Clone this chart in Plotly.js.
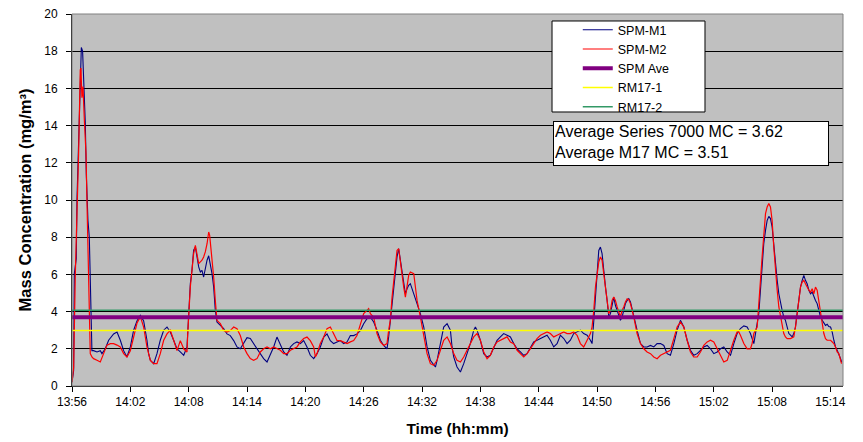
<!DOCTYPE html>
<html>
<head>
<meta charset="utf-8">
<script src="https://cdn.plot.ly/plotly-3.0.1.min.js"></script>
<style>html,body{margin:0;padding:0;background:#fff;}#chart{width:863px;height:442px;}</style>
</head>
<body>
<div id="chart"></div>
<script>
// Time in minutes after 13:56
const tickMinutes = [0, 6, 12, 18, 24, 30, 36, 42, 48, 54, 60, 66, 72, 78];
const tickLabels = ["13:56","14:02","14:08","14:14","14:20","14:26","14:32","14:38","14:44","14:50","14:56","15:02","15:08","15:14"];

const m1Time = [0,0.17,0.24,0.44,0.51,0.68,0.85,0.96,1.09,1.2,1.3,1.37,1.47,1.64,1.78,1.88,1.98,2.05,2.22,2.57,2.91,3.08,3.42,3.77,4.28,4.63,4.97,5.31,5.65,6.0,6.34,6.68,7.03,7.37,7.71,7.88,8.06,8.4,8.74,9.08,9.43,9.77,10.11,10.46,10.8,11.14,11.49,11.83,12.0,12.17,12.34,12.51,12.69,12.86,13.03,13.2,13.37,13.54,13.71,13.89,14.06,14.23,14.4,14.57,14.74,14.91,15.26,15.6,15.94,16.28,16.63,16.97,17.31,17.66,18.0,18.34,18.68,19.03,19.37,19.71,20.06,20.4,20.74,21.08,21.26,21.43,21.77,22.11,22.46,22.8,23.14,23.49,23.83,24.17,24.51,24.86,25.2,25.54,25.89,26.23,26.57,26.91,27.26,27.6,27.94,28.29,28.63,28.97,29.31,29.66,30.0,30.34,30.69,31.03,31.37,31.72,32.06,32.4,32.57,32.74,32.92,33.09,33.26,33.43,33.6,33.78,33.95,34.12,34.29,34.46,34.63,34.8,34.98,35.15,35.49,35.83,36.18,36.52,36.86,37.2,37.38,37.55,37.89,38.23,38.58,38.92,39.09,39.26,39.6,39.95,40.29,40.63,40.97,41.32,41.49,41.66,42.0,42.35,42.69,43.03,43.38,43.72,44.06,44.4,44.75,45.09,45.43,45.78,46.12,46.46,46.81,47.15,47.49,47.83,48.18,48.52,48.86,49.2,49.55,49.89,50.23,50.58,50.92,51.26,51.6,51.95,52.29,52.63,52.98,53.32,53.49,53.67,53.84,54.01,54.18,54.35,54.52,54.69,54.87,55.04,55.21,55.38,55.55,55.72,55.89,56.07,56.24,56.41,56.58,56.75,56.92,57.1,57.27,57.44,57.78,58.12,58.47,58.81,59.15,59.5,59.84,60.18,60.53,60.87,61.21,61.55,61.9,62.24,62.58,62.93,63.27,63.61,63.95,64.3,64.64,64.98,65.33,65.67,66.01,66.36,66.7,67.04,67.39,67.73,68.07,68.41,68.75,69.1,69.44,69.78,70.13,70.3,70.47,70.64,70.81,70.98,71.15,71.33,71.5,71.67,71.84,72.01,72.18,72.35,72.53,72.7,72.87,73.04,73.21,73.38,73.56,73.73,73.9,74.07,74.24,74.41,74.58,74.76,74.93,75.1,75.27,75.44,75.61,75.79,75.96,76.13,76.3,76.47,76.64,76.81,76.99,77.16,77.33,77.5,77.67,77.84,78.02,78.19,78.36,78.53,78.7,78.87,79.05,79.15];
const m1Val = [0.2,0.84,6.04,6.85,9.98,13.0,16.4,18.2,18.0,16.6,15.6,14.1,11.4,8.9,8.0,4.97,2.8,1.9,1.9,1.83,1.9,1.74,2.0,2.46,2.8,2.9,2.46,1.9,1.56,2.1,3.0,3.5,3.8,3.5,2.46,1.74,1.38,1.2,1.74,2.46,3.0,3.17,2.9,2.46,2.0,1.83,1.65,2.1,4.07,5.5,6.22,7.3,7.47,6.94,6.4,6.13,6.22,5.86,6.4,6.76,7.0,6.58,6.04,5.32,4.07,3.44,3.26,3.08,2.8,2.71,2.44,2.1,2.0,2.28,2.6,2.55,2.28,2.0,1.74,1.47,1.29,1.65,2.1,2.63,2.44,2.18,1.83,1.65,2.1,2.28,2.37,2.28,2.44,2.1,1.65,1.47,1.74,2.1,2.63,2.8,2.44,2.28,2.37,2.44,2.28,2.37,2.71,2.71,2.8,2.98,3.35,3.62,3.7,3.44,3.0,2.46,2.18,2.0,2.64,3.53,4.43,5.5,6.04,6.94,7.38,6.76,6.13,5.77,4.96,5.23,5.41,5.5,5.23,4.96,4.43,3.89,3.17,2.1,1.38,1.11,1.02,1.38,2.28,3.17,3.35,3.0,2.1,1.56,1.02,0.75,1.2,1.74,2.28,3.0,3.17,3.0,2.46,1.74,1.56,1.65,2.1,2.46,2.64,2.82,2.73,2.64,2.28,2.0,1.83,1.65,1.74,2.1,2.37,2.46,2.55,2.64,2.73,2.46,2.1,2.28,2.73,2.55,2.28,2.46,2.82,2.91,3.0,2.82,2.73,2.46,2.28,3.53,4.6,6.04,7.29,7.47,7.12,6.04,5.32,4.6,3.71,3.89,4.43,4.78,4.34,4.07,3.71,3.53,3.71,4.07,4.43,4.6,4.69,4.52,3.71,3.0,2.28,2.1,2.1,2.18,2.1,2.28,2.28,2.18,1.74,1.65,2.28,3.0,3.53,3.17,2.46,1.92,1.65,1.74,1.92,2.1,2.18,2.0,1.74,1.83,2.0,2.1,1.83,1.65,2.28,2.82,3.09,3.23,3.17,2.82,2.28,2.82,3.35,3.89,5.15,6.4,7.65,8.37,8.9,9.12,9.0,8.55,7.47,6.58,5.68,4.96,4.43,4.07,3.71,3.53,3.17,2.82,2.73,2.64,2.82,3.17,3.89,4.78,5.32,5.68,5.95,5.68,5.5,5.15,4.96,5.05,4.78,4.6,4.43,4.07,3.71,3.53,3.35,3.26,3.32,3.2,3.17,2.9,2.46,2.1,1.92,1.74,1.47,1.29];

const m2Time = [0,0.17,0.34,0.58,0.68,0.85,0.92,1.02,1.13,1.27,1.44,1.61,1.78,1.88,2.05,2.22,2.57,2.91,3.25,3.6,3.94,4.28,4.63,4.97,5.31,5.65,6.0,6.34,6.68,7.03,7.37,7.71,8.06,8.4,8.74,9.08,9.43,9.77,10.11,10.46,10.8,11.14,11.49,11.83,11.9,12.17,12.51,12.69,12.86,13.03,13.2,13.37,13.54,13.71,13.89,14.06,14.16,14.3,14.4,14.57,14.74,14.91,15.26,15.6,15.94,16.28,16.63,16.97,17.31,17.66,18.0,18.34,18.68,19.03,19.37,19.71,20.06,20.4,20.74,21.08,21.43,21.77,22.11,22.46,22.8,23.14,23.49,23.83,24.17,24.51,24.86,25.03,25.2,25.54,25.89,26.23,26.57,26.91,27.26,27.6,27.94,28.29,28.63,28.97,29.31,29.66,30.0,30.34,30.51,30.69,31.03,31.37,31.72,32.06,32.4,32.57,32.74,32.92,33.09,33.26,33.43,33.6,33.78,33.95,34.12,34.29,34.46,34.63,34.8,35.15,35.32,35.49,35.83,36.18,36.52,36.86,37.2,37.55,37.89,38.23,38.58,38.92,39.26,39.6,39.95,40.29,40.63,40.97,41.32,41.66,42.0,42.35,42.69,43.03,43.38,43.72,44.06,44.4,44.75,45.09,45.43,45.78,46.12,46.46,46.81,47.15,47.49,47.83,48.18,48.52,48.86,49.2,49.55,49.89,50.23,50.58,50.92,51.26,51.6,51.95,52.29,52.63,52.98,53.32,53.49,53.67,53.84,54.01,54.18,54.35,54.52,54.69,54.87,55.04,55.21,55.38,55.55,55.72,55.89,56.07,56.41,56.58,56.75,56.92,57.1,57.27,57.44,57.78,58.12,58.47,58.81,59.15,59.5,59.84,60.18,60.53,60.87,61.21,61.55,61.9,62.24,62.58,62.93,63.27,63.61,63.95,64.3,64.64,64.98,65.33,65.67,66.01,66.36,66.7,67.04,67.39,67.73,68.07,68.41,68.58,68.75,69.1,69.44,69.78,69.95,70.13,70.47,70.64,70.81,70.98,71.15,71.33,71.5,71.67,71.84,72.01,72.18,72.35,72.53,72.7,72.87,73.04,73.21,73.38,73.56,73.9,74.24,74.41,74.58,74.76,74.93,75.1,75.27,75.44,75.61,75.79,75.96,76.13,76.3,76.47,76.64,76.81,76.99,77.16,77.33,77.5,77.67,78.02,78.36,78.53,78.7,78.87,79.05,79.15];
const m2Val = [0.2,1.0,6.0,10.0,12.5,17.0,17.1,15.5,16.1,14.3,12.5,8.2,4.25,1.74,1.56,1.47,1.38,1.29,1.74,2.2,2.28,2.28,2.2,2.1,1.74,1.56,1.9,2.64,3.37,3.73,3.17,2.1,1.38,1.2,1.2,1.74,2.46,2.8,3.0,2.46,1.9,2.44,2.0,1.83,2.8,5.32,7.12,7.56,7.12,6.58,6.67,6.76,6.94,7.21,7.65,8.28,8.1,7.38,6.94,5.86,4.6,3.53,3.35,2.98,2.9,2.98,3.17,3.08,2.71,2.1,1.74,1.47,1.38,1.47,1.83,2.0,2.1,2.0,2.1,2.0,1.92,1.74,1.74,1.92,2.0,2.1,2.37,2.55,2.63,2.44,2.1,1.56,1.74,2.28,2.63,3.08,3.17,2.8,2.44,2.44,2.37,2.28,2.37,2.44,2.71,3.35,3.89,4.07,4.16,3.89,3.7,2.82,2.37,2.18,2.28,3.0,3.53,4.78,5.68,6.58,7.29,7.38,6.58,5.86,5.32,4.78,5.41,5.95,6.13,6.04,5.32,4.6,3.71,2.64,1.74,1.2,1.11,1.38,1.92,2.46,2.64,2.28,1.74,1.38,1.29,1.56,1.92,2.28,2.64,2.82,2.46,1.83,1.47,1.65,2.1,2.37,2.46,2.55,2.64,2.37,2.28,1.92,1.74,1.56,1.74,2.0,2.28,2.55,2.73,2.82,2.91,2.82,2.64,2.73,2.82,2.91,2.82,2.82,2.91,2.73,2.28,2.1,2.46,2.82,3.17,4.07,5.32,6.04,6.67,6.94,6.76,6.04,5.32,4.6,3.89,4.07,4.6,4.78,4.6,4.25,3.71,4.07,4.25,4.52,4.69,4.64,4.43,3.71,2.82,2.28,2.0,1.83,1.74,1.56,1.47,1.65,1.74,1.83,1.92,2.55,3.17,3.44,3.17,2.46,1.83,1.56,1.56,1.83,2.18,2.37,2.46,2.37,2.0,1.56,1.29,1.38,1.95,2.46,2.91,2.91,2.73,2.28,2.0,2.0,2.28,2.82,3.17,4.25,5.68,6.94,8.37,9.27,9.63,9.81,9.63,8.9,7.47,6.22,5.15,4.25,3.71,3.17,2.82,2.64,2.55,2.55,2.64,3.17,3.89,4.6,5.32,5.59,5.68,5.5,5.32,5.15,5.05,5.23,4.96,5.32,5.15,4.6,3.89,3.35,2.82,2.55,2.46,2.46,2.28,2.1,1.83,1.74,1.38,1.2];

// Reference (constant) series across the whole record
const refTime = [0, 79.3];
const spmAve = [3.7, 3.7];
const rm17_1 = [2.99, 2.99];
const rm17_2 = [4.07, 4.07];

const avgSeries7000 = "3.62";
const avgM17 = "3.51";

const FONT = 'Arial, "Liberation Sans", sans-serif';

const traces = [
  {x: m1Time, y: m1Val, name: 'SPM-M1', type: 'scatter', mode: 'lines', line: {color: '#000080', width: 1.1}},
  {x: m2Time, y: m2Val, name: 'SPM-M2', type: 'scatter', mode: 'lines', line: {color: '#FF0000', width: 1.2}},
  {x: refTime, y: spmAve, name: 'SPM Ave', type: 'scatter', mode: 'lines', line: {color: '#800080', width: 4}},
  {x: refTime, y: rm17_1, name: 'RM17-1', type: 'scatter', mode: 'lines', line: {color: '#FFFF00', width: 1.5}},
  {x: refTime, y: rm17_2, name: 'RM17-2', type: 'scatter', mode: 'lines', line: {color: '#339966', width: 1.5}}
];

const layout = {
  width: 863, height: 442,
  margin: {l: 72, r: 20, t: 14, b: 56, pad: 0},
  paper_bgcolor: '#FFFFFF',
  plot_bgcolor: '#C0C0C0',
  font: {family: FONT, color: '#000000', size: 12},
  showlegend: true,
  legend: {
    x: 0.656, y: 0.997, xanchor: 'left', yanchor: 'top',
    bgcolor: 'rgba(0,0,0,0)', borderwidth: 0,
    font: {family: FONT, size: 12.5, color: '#000000'},
    traceorder: 'normal'
  },
  xaxis: {
    range: [0, 79.3],
    tickmode: 'array', tickvals: tickMinutes, ticktext: tickLabels,
    ticks: 'outside', ticklen: 5, tickwidth: 1, tickcolor: '#000000',
    showline: true, linecolor: '#000000', linewidth: 1,
    showgrid: false, zeroline: false,
    tickfont: {family: FONT, size: 12, color: '#000000'},
    title: {text: 'Time (hh:mm)', font: {family: FONT, size: 15.5, weight: 'bold', color: '#000000'}, standoff: 14}
  },
  yaxis: {
    range: [0, 20], dtick: 2, tick0: 0,
    ticks: 'outside', ticklen: 5, tickwidth: 1, tickcolor: '#000000',
    showline: true, linecolor: '#000000', linewidth: 1,
    showgrid: true, gridcolor: '#000000', gridwidth: 1, zeroline: false,
    tickfont: {family: FONT, size: 12, color: '#000000'},
    ticklabelstandoff: 6,
    title: {text: 'Mass Concentration (mg/m³)', font: {family: FONT, size: 16.5, weight: 'bold', color: '#000000'}, standoff: 8}
  },
  shapes: [
    {type: 'rect', xref: 'paper', yref: 'paper', x0: 0, x1: 1, y0: 0, y1: 1, line: {color: '#808080', width: 1}, fillcolor: 'rgba(0,0,0,0)', layer: 'above'},
    {type: 'rect', xref: 'paper', yref: 'paper', x0: 0.6226, x1: 0.821, y0: 0.7366, y1: 0.9812, line: {color: '#000000', width: 1}, fillcolor: '#FFFFFF', layer: 'above'}
  ],
  annotations: [
    {xref: 'paper', yref: 'paper', x: 0.6239, y: 0.7124, xanchor: 'left', yanchor: 'top',
     text: 'Average Series 7000 MC = ' + avgSeries7000 + '<br>Average M17 MC = ' + avgM17,
     showarrow: false, align: 'left', valign: 'top',
     bgcolor: '#FFFFFF', bordercolor: '#000000', borderwidth: 1, borderpad: 1,
     width: 272, height: 41,
     font: {family: FONT, size: 16, color: '#000000'}}
  ]
};

Plotly.newPlot('chart', traces, layout, {displayModeBar: false, staticPlot: true});
</script>
</body>
</html>
